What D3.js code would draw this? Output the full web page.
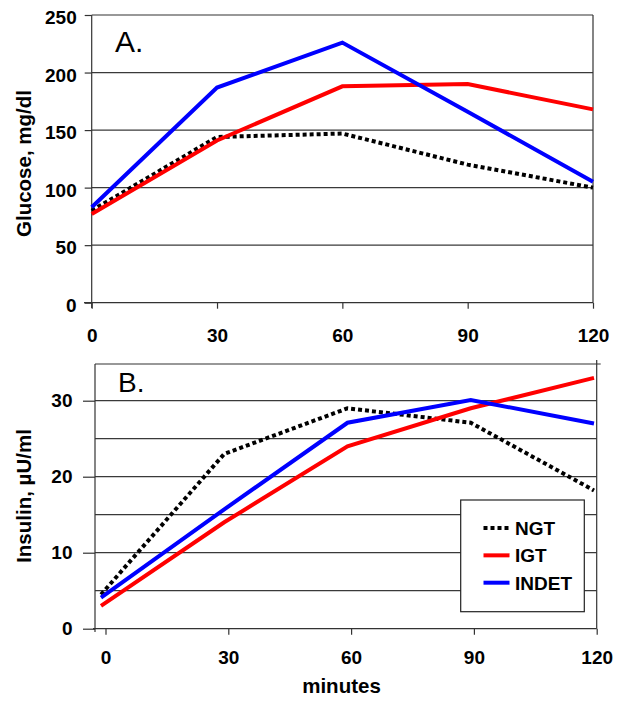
<!DOCTYPE html>
<html>
<head>
<meta charset="utf-8">
<script src="https://cdn.jsdelivr.net/npm/d3@7"></script>
<style>
  html, body { margin: 0; padding: 0; background: #fff; }
  svg { display: block; font-family: "Liberation Sans", Arial, sans-serif; }
</style>
</head>
<body>
<svg id="chart" width="629" height="705"></svg>
<script>
// ---- data ----
const minutes = [0, 30, 60, 90, 120];
const seriesNames = ["NGT", "IGT", "INDET"];
const glucoseNGT   = [80, 144, 147, 120, 100];
const glucoseIGT   = [77, 141, 188, 190, 168];
const glucoseINDET = [83, 187, 226, 166, 105];
const insulinNGT   = [4.5, 23, 29, 27.1, 18.2];
const insulinIGT   = [3, 14, 24, 29, 33];
const insulinINDET = [4.1, 15.7, 27.1, 30.1, 27];
const glucoseTicks = [0, 50, 100, 150, 200, 250];
const insulinTicks = [0, 10, 20, 30];
const insulinGrid  = [5, 10, 15, 20, 25, 30];

const colors = { NGT: "#000000", IGT: "#ff0000", INDET: "#0000ff" };
const dashes = { NGT: "4,3", IGT: null, INDET: null };

const svg = d3.select("#chart");
const axisColor = "#333";
const gridColor = "#3a3a3a";
const FONT = "Liberation Sans, Arial, sans-serif";

function drawPanel(cfg) {
  const g = svg.append("g");
  const x = cfg.x, y = cfg.y;
  const [x0, x1] = [cfg.left, cfg.right];
  const [yTop, yBot] = [cfg.top, cfg.bottom];

  g.selectAll("line.grid").data(cfg.grid).join("line")
    .attr("x1", x0).attr("x2", x1)
    .attr("y1", d => y(d)).attr("y2", d => y(d))
    .attr("stroke", gridColor).attr("stroke-width", 1.2);

  g.append("line").attr("x1", x0).attr("x2", cfg.topBorderEnd)
    .attr("y1", yTop).attr("y2", yTop).attr("stroke", axisColor).attr("stroke-width", 1.2);
  g.append("line").attr("x1", x1).attr("x2", x1)
    .attr("y1", cfg.rightTop).attr("y2", yBot).attr("stroke", axisColor).attr("stroke-width", 1.2);

  const yAxis = d3.axisLeft(y).tickValues(cfg.yTicks).tickSize(cfg.yTickSize).tickPadding(cfg.yPad);
  const ya = g.append("g").attr("transform", `translate(${x0},0)`).call(yAxis);
  ya.select(".domain").remove();
  ya.selectAll(".tick line").attr("stroke", axisColor).attr("stroke-width", 1.2);
  ya.selectAll(".tick text").attr("font-size", 19).attr("font-weight", "bold")
    .attr("fill", "#000").attr("font-family", FONT).attr("dy", cfg.yDy);
  g.append("line").attr("x1", x0).attr("x2", x0)
    .attr("y1", yTop).attr("y2", cfg.leftBottom).attr("stroke", axisColor).attr("stroke-width", 1.2);

  const xAxis = d3.axisBottom(cfg.xt).tickValues(minutes).tickSize(6).tickPadding(cfg.xPad);
  const xa = g.append("g").attr("transform", `translate(0,${yBot})`).call(xAxis);
  xa.select(".domain").remove();
  xa.selectAll(".tick line").attr("stroke", axisColor).attr("stroke-width", 1.2);
  xa.selectAll(".tick text").attr("font-size", 19).attr("font-weight", "bold")
    .attr("fill", "#000").attr("font-family", FONT);
  g.append("line").attr("x1", cfg.xAxisStart).attr("x2", x1)
    .attr("y1", yBot).attr("y2", yBot).attr("stroke", axisColor).attr("stroke-width", 1.2);

  const line = d3.line().x((d, i) => x(minutes[i])).y(d => y(d));
  cfg.series.forEach(s => {
    g.append("path").datum(s.values)
      .attr("d", line)
      .attr("fill", "none")
      .attr("stroke", colors[s.name])
      .attr("stroke-width", 4)
      .attr("stroke-linejoin", "miter")
      .attr("stroke-dasharray", dashes[s.name]);
  });

  g.append("text").attr("x", cfg.letterX).attr("y", cfg.letterY)
    .attr("font-size", cfg.letterSize).text(cfg.letter);

  g.append("text")
    .attr("transform", `translate(${cfg.yLabelX},${cfg.yLabelY}) rotate(-90)`)
    .attr("text-anchor", "middle").attr("font-size", 20.5).attr("font-weight", "bold")
    .text(cfg.yLabel);
  return g;
}

// Panel A
const xA = d3.scaleLinear().domain([0, 120]).range([91.7, 593]);
const yA = d3.scaleLinear().domain([0, 250]).range([302.7, 15]);
drawPanel({
  x: xA, xt: xA, y: yA,
  left: 91.7, right: 593, top: 15, bottom: 302.7,
  topBorderEnd: 593, rightTop: 15, leftBottom: 308, xAxisStart: 84,
  grid: [50, 100, 150, 200],
  yTicks: glucoseTicks, yTickSize: 7, yPad: 8, xPad: 20, yDy: "0.45em",
  series: [
    { name: "NGT", values: glucoseNGT },
    { name: "IGT", values: glucoseIGT },
    { name: "INDET", values: glucoseINDET }
  ],
  letter: "A.", letterX: 115, letterY: 52, letterSize: 30,
  yLabel: "Glucose, mg/dl", yLabelX: 31, yLabelY: 163.5
});

// Panel B
const xB = d3.scaleLinear().domain([0, 120]).range([101, 594]);
const xBt = d3.scaleLinear().domain([0, 120]).range([105.5, 596.7]);
const yB = d3.scaleLinear().domain([0, 35]).range([628.7, 362.7]);
drawPanel({
  x: xB, xt: xBt, y: yB,
  left: 95, right: 596.7, top: 364, bottom: 628.7,
  topBorderEnd: 600.7, rightTop: 360, leftBottom: 632, xAxisStart: 93,
  grid: insulinGrid,
  yTicks: insulinTicks, yTickSize: 12, yPad: 10.5, xPad: 16, yDy: "0.32em",
  series: [
    { name: "NGT", values: insulinNGT },
    { name: "IGT", values: insulinIGT },
    { name: "INDET", values: insulinINDET }
  ],
  letter: "B.", letterX: 118, letterY: 392, letterSize: 28,
  yLabel: "Insulin, µU/ml", yLabelX: 31, yLabelY: 496
});

svg.append("text").attr("x", 341.5).attr("y", 693).attr("text-anchor", "middle")
  .attr("font-size", 20.5).attr("font-weight", "bold").text("minutes");

const leg = svg.append("g");
leg.append("rect").attr("x", 460.7).attr("y", 500).attr("width", 123.6).attr("height", 111.7)
  .attr("fill", "#fff").attr("stroke", "#222").attr("stroke-width", 1.2);
const legY = d3.scalePoint().domain(seriesNames).range([528, 582.7]);
seriesNames.forEach(n => {
  leg.append("line").attr("x1", 483.5).attr("x2", 509.5)
    .attr("y1", legY(n)).attr("y2", legY(n))
    .attr("stroke", colors[n]).attr("stroke-width", 4)
    .attr("stroke-dasharray", dashes[n]);
  leg.append("text").attr("x", 515).attr("y", legY(n)).attr("dy", "0.36em")
    .attr("font-size", 19).attr("font-weight", "bold").text(n);
});
</script>
</body>
</html>
